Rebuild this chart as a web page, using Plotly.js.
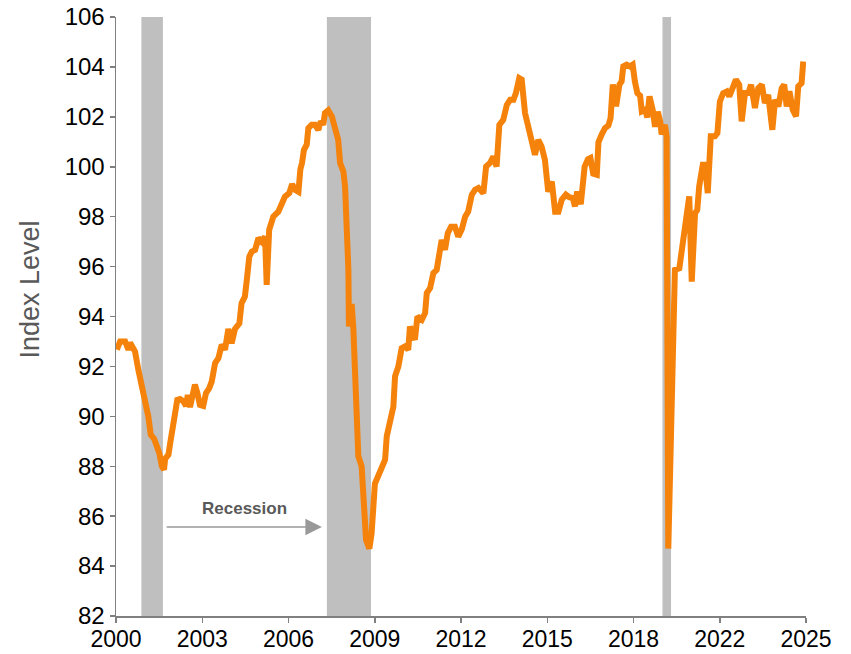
<!DOCTYPE html>
<html>
<head>
<meta charset="utf-8">
<script src="https://cdn.plot.ly/plotly-3.0.1.min.js"></script>
<style>html,body{margin:0;padding:0;background:#fff;}#chart{width:851px;height:654px;}</style>
</head>
<body>
<div id="chart"></div>
<script>
// Position along the time axis (chart years) and index level
const years = [
  2000.03,2000.15,2000.33,2000.45,2000.51,2000.63,2000.69,2000.81,2000.93,2001.05,
  2001.17,2001.26,2001.38,2001.48,2001.57,2001.66,2001.74,2001.78,2001.90,2001.96,
  2002.05,2002.14,2002.22,2002.32,2002.44,2002.54,2002.60,2002.68,2002.78,2002.86,
  2002.95,2003.04,2003.16,2003.26,2003.38,2003.47,2003.59,2003.71,2003.83,2003.95,
  2004.07,2004.19,2004.31,2004.47,2004.55,2004.67,2004.74,2004.83,2004.92,2005.04,
  2005.16,2005.28,2005.40,2005.46,2005.55,2005.70,2005.88,2006.00,2006.12,2006.28,
  2006.38,2006.50,2006.61,2006.68,2006.74,2006.81,2006.91,2006.97,2007.09,2007.21,
  2007.33,2007.42,2007.51,2007.57,2007.69,2007.82,2007.94,2008.05,2008.12,2008.24,
  2008.30,2008.36,2008.42,2008.44,2008.54,2008.60,2008.72,2008.78,2008.90,2008.96,
  2009.06,2009.18,2009.26,2009.38,2009.50,2009.63,2009.75,2009.81,2009.93,2010.05,
  2010.11,2010.23,2010.35,2010.47,2010.59,2010.65,2010.77,2010.83,2010.92,2011.08,
  2011.20,2011.26,2011.38,2011.50,2011.62,2011.74,2011.80,2011.92,2012.02,2012.14,
  2012.28,2012.40,2012.53,2012.65,2012.76,2012.89,2013.01,2013.13,2013.25,2013.31,
  2013.41,2013.55,2013.67,2013.79,2013.89,2014.03,2014.16,2014.28,2014.40,2014.49,
  2014.61,2014.70,2014.82,2014.94,2015.06,2015.18,2015.30,2015.42,2015.54,2015.66,
  2015.79,2015.91,2016.03,2016.15,2016.30,2016.42,2016.55,2016.63,2016.71,2016.84,
  2016.98,2017.10,2017.19,2017.29,2017.42,2017.48,2017.60,2017.72,2017.84,2017.92,
  2018.00,2018.12,2018.24,2018.32,2018.38,2018.50,2018.62,2018.72,2018.80,2018.89,
  2018.99,2019.05,2019.17,2019.25,2019.33,2019.45,2019.53,2019.63,2019.72,2019.77,
  2019.89,2019.95,2020.01,2020.25,2020.41,2020.50,2020.62,2020.77,2020.86,2020.98,
  2021.06,2021.13,2021.26,2021.34,2021.44,2021.55,2021.70,2021.79,2021.88,2022.00,
  2022.13,2022.22,2022.34,2022.46,2022.58,2022.67,2022.79,2022.91,2023.01,2023.15,
  2023.27,2023.40,2023.51,2023.63,2023.78,2023.88,2024.00,2024.12,2024.21,2024.30,
  2024.40,2024.52,2024.64,2024.72,2024.84,2024.90
];
const indexLevel = [
  92.67,93.00,93.00,92.67,92.95,92.67,92.60,91.86,91.20,90.80,
  90.00,89.26,89.10,88.80,88.52,88.00,87.86,88.30,88.46,88.90,
  89.45,89.86,90.66,90.69,90.60,90.42,90.86,90.37,91.00,91.27,
  90.93,90.46,90.42,90.93,91.13,91.40,92.13,92.33,92.87,92.67,
  93.50,92.93,93.50,93.73,94.54,94.80,95.47,96.40,96.60,96.67,
  97.14,97.00,97.20,95.27,97.47,98.00,98.20,98.47,98.80,98.95,
  99.30,99.07,99.00,99.90,100.15,100.68,100.88,101.55,101.68,101.68,
  101.48,101.82,101.68,102.15,102.26,102.02,101.60,101.08,100.15,99.80,
  99.20,97.47,95.87,93.60,94.50,93.50,90.00,88.40,88.00,86.50,
  85.05,84.70,85.30,87.30,87.60,88.00,88.26,89.20,89.86,90.39,
  91.60,92.00,92.73,92.80,92.67,93.60,93.20,93.07,94.00,93.87,
  94.14,94.94,95.14,95.74,95.87,96.67,97.07,96.67,97.34,97.60,
  97.60,97.20,97.50,98.00,98.20,98.87,99.08,99.15,99.05,98.94,
  100.01,100.15,100.41,100.01,101.68,101.88,102.48,102.68,102.68,102.95,
  103.55,103.49,102.15,101.62,100.88,100.48,101.08,100.81,100.28,99.00,
  99.41,98.20,98.20,98.68,98.88,98.78,98.75,98.41,99.01,98.50,
  100.01,100.30,100.35,99.72,99.68,100.98,101.30,101.55,101.65,101.95,
  103.30,102.42,103.29,103.42,104.02,104.09,104.02,104.09,103.42,102.95,
  102.85,102.22,102.29,101.98,102.82,102.25,101.60,102.20,101.80,101.30,
  101.68,101.20,84.70,95.87,95.93,96.67,97.47,98.81,95.40,98.14,
  98.27,99.21,100.08,100.08,98.94,101.22,101.22,101.35,102.62,102.95,
  103.02,102.82,103.15,103.49,103.29,101.82,102.95,102.95,103.29,102.35,
  103.15,103.29,102.55,102.88,101.48,102.68,102.42,103.15,103.29,102.42,
  103.02,102.28,102.02,103.22,103.35,104.22
];
// Recession periods (start, end) on the same axis
const recessionStarts = [2000.92, 2007.64, 2019.80];
const recessionEnds   = [2001.70, 2009.24, 2020.11];
// Axis ticks
const xTickVals = [2000, 2003.125, 2006.25, 2009.375, 2012.5, 2015.625, 2018.75, 2021.875, 2025];
const xTickText = ['2000','2003','2006','2009','2012','2015','2018','2022','2025'];
const yTickVals = [82,84,86,88,90,92,94,96,98,100,102,104,106];

const FONT = 'Liberation Sans, Arial, Helvetica, sans-serif';

const shapes = recessionStarts.map((s, i) => ({
  type: 'rect', xref: 'x', yref: 'paper', x0: s, x1: recessionEnds[i], y0: 0, y1: 1,
  fillcolor: '#bfbfbf', line: {width: 0}, layer: 'below'
}));

const trace = {
  x: years, y: indexLevel, type: 'scatter', mode: 'lines',
  line: {color: '#f5820a', width: 6}, hoverinfo: 'skip', showlegend: false
};

const layout = {
  width: 851, height: 654,
  margin: {l: 116, r: 45, t: 17, b: 38, pad: 0},
  paper_bgcolor: '#ffffff', plot_bgcolor: '#ffffff',
  font: {family: FONT, color: '#000000'},
  showlegend: false,
  xaxis: {
    range: [2000, 2025], showgrid: false, zeroline: false,
    showline: true, linecolor: '#808080', linewidth: 1.5,
    ticks: 'outside', ticklen: 5, tickwidth: 1.5, tickcolor: '#808080',
    tickvals: xTickVals, ticktext: xTickText, ticklabelstandoff: -3,
    tickfont: {family: FONT, size: 23, color: '#000000'}
  },
  yaxis: {
    range: [82, 106], showgrid: false, zeroline: false,
    showline: true, linecolor: '#808080', linewidth: 1.5,
    ticks: 'outside', ticklen: 5, tickwidth: 1.5, tickcolor: '#808080',
    tickvals: yTickVals,
    tickfont: {family: FONT, size: 24, color: '#000000'}
  },
  shapes: shapes,
  annotations: [
    {
      xref: 'paper', yref: 'paper', x: -0.126, y: 0.545, xanchor: 'center', yanchor: 'middle',
      text: 'Index Level', textangle: -90, showarrow: false,
      font: {family: FONT, size: 27, color: '#595959'}
    },
    {
      xref: 'x', yref: 'y', x: 2007.46, y: 85.57,
      axref: 'x', ayref: 'y', ax: 2001.78, ay: 85.57,
      text: '', showarrow: true, arrowhead: 2, arrowsize: 2.2, arrowwidth: 1.5,
      arrowcolor: '#999999'
    },
    {
      xref: 'x', yref: 'y', x: 2004.64, y: 86.29, showarrow: false,
      text: '<b>Recession</b>', font: {family: FONT, size: 17, color: '#595959'}
    }
  ]
};

Plotly.newPlot('chart', [trace], layout, {staticPlot: true, displayModeBar: false});
</script>
</body>
</html>
